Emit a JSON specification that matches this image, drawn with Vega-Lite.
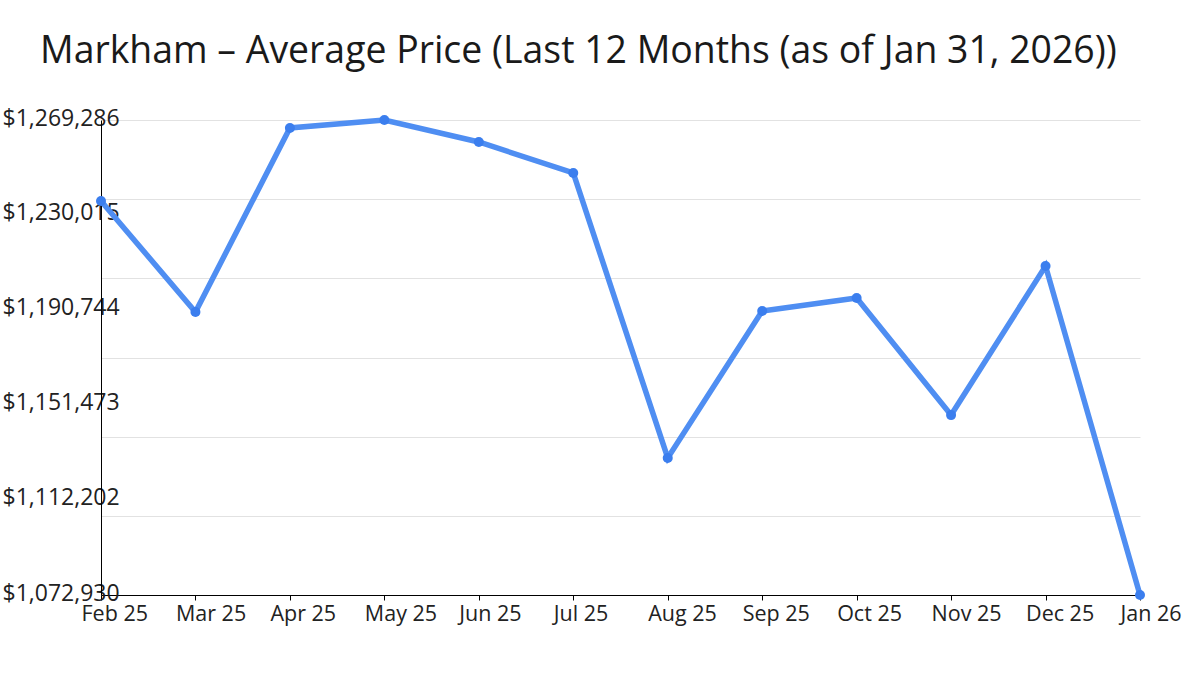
{
  "$schema": "https://vega.github.io/schema/vega-lite/v6.json",
  "autosize": "none",
  "width": 1039,
  "height": 475,
  "padding": {"left": 101, "top": 120, "right": 60, "bottom": 80},
  "background": "white",
  "title": {
    "text": "Markham – Average Price (Last 12 Months (as of Jan 31, 2026))",
    "anchor": "start",
    "frame": "group",
    "dx": -61,
    "dy": 51,
    "font": "Open Sans",
    "fontSize": 37.4,
    "fontWeight": "normal",
    "color": "#1a1a1a",
    "baseline": "alphabetic",
    "offset": 58
  },
  "config": {
    "view": {"stroke": null},
    "font": "Open Sans"
  },
  "data": {
    "values": [
      {"month": "Feb 25", "price": 1235800},
      {"month": "Mar 25", "price": 1189900},
      {"month": "Apr 25", "price": 1266000},
      {"month": "May 25", "price": 1269286},
      {"month": "Jun 25", "price": 1260200},
      {"month": "Jul 25", "price": 1247400},
      {"month": "Aug 25", "price": 1129600},
      {"month": "Sep 25", "price": 1190300},
      {"month": "Oct 25", "price": 1195700},
      {"month": "Nov 25", "price": 1147300},
      {"month": "Dec 25", "price": 1208900},
      {"month": "Jan 26", "price": 1072930}
    ]
  },
  "encoding": {
    "x": {
      "field": "month",
      "type": "nominal",
      "sort": null,
      "scale": {"type": "point", "padding": 0},
      "axis": {
        "title": null,
        "labelAngle": 0,
        "labelAlign": "left",
        "labelOffset": -20,
        "labelFontSize": 21.5,
        "labelColor": "#222222",
        "labelPadding": 3,
        "tickSize": 5,
        "tickColor": "#000000",
        "domainColor": "#000000",
        "grid": false
      }
    }
  },
  "layer": [
    {
      "mark": {"type": "line", "color": "#4F8EF2", "strokeWidth": 5.5},
      "encoding": {
        "y": {
          "field": "price",
          "type": "quantitative",
          "scale": {"domain": [1072930, 1269286], "nice": false, "zero": false},
          "axis": {
            "orient": "left",
            "title": null,
            "values": [1072930, 1105656, 1138382, 1171108, 1203834, 1236560, 1269286],
            "labels": false,
            "ticks": false,
            "domain": false,
            "grid": true,
            "gridColor": "#e2e2e2",
            "gridWidth": 1
          }
        }
      }
    },
    {
      "mark": {"type": "point", "filled": true, "opacity": 1, "color": "#3B7EEE", "size": 100},
      "encoding": {
        "y": {
          "field": "price",
          "type": "quantitative",
          "axis": {
            "orient": "left",
            "title": null,
            "values": [1072930, 1112202, 1151473, 1190744, 1230015, 1269286],
            "format": "$,.0f",
            "grid": false,
            "ticks": false,
            "tickSize": 0,
            "labelAlign": "left",
            "labelPadding": 99,
            "labelOffset": -2,
            "labelFontSize": 23,
            "labelColor": "#222222",
            "domain": true,
            "domainColor": "#000000"
          }
        }
      }
    }
  ],
  "resolve": {"axis": {"y": "independent"}}
}
